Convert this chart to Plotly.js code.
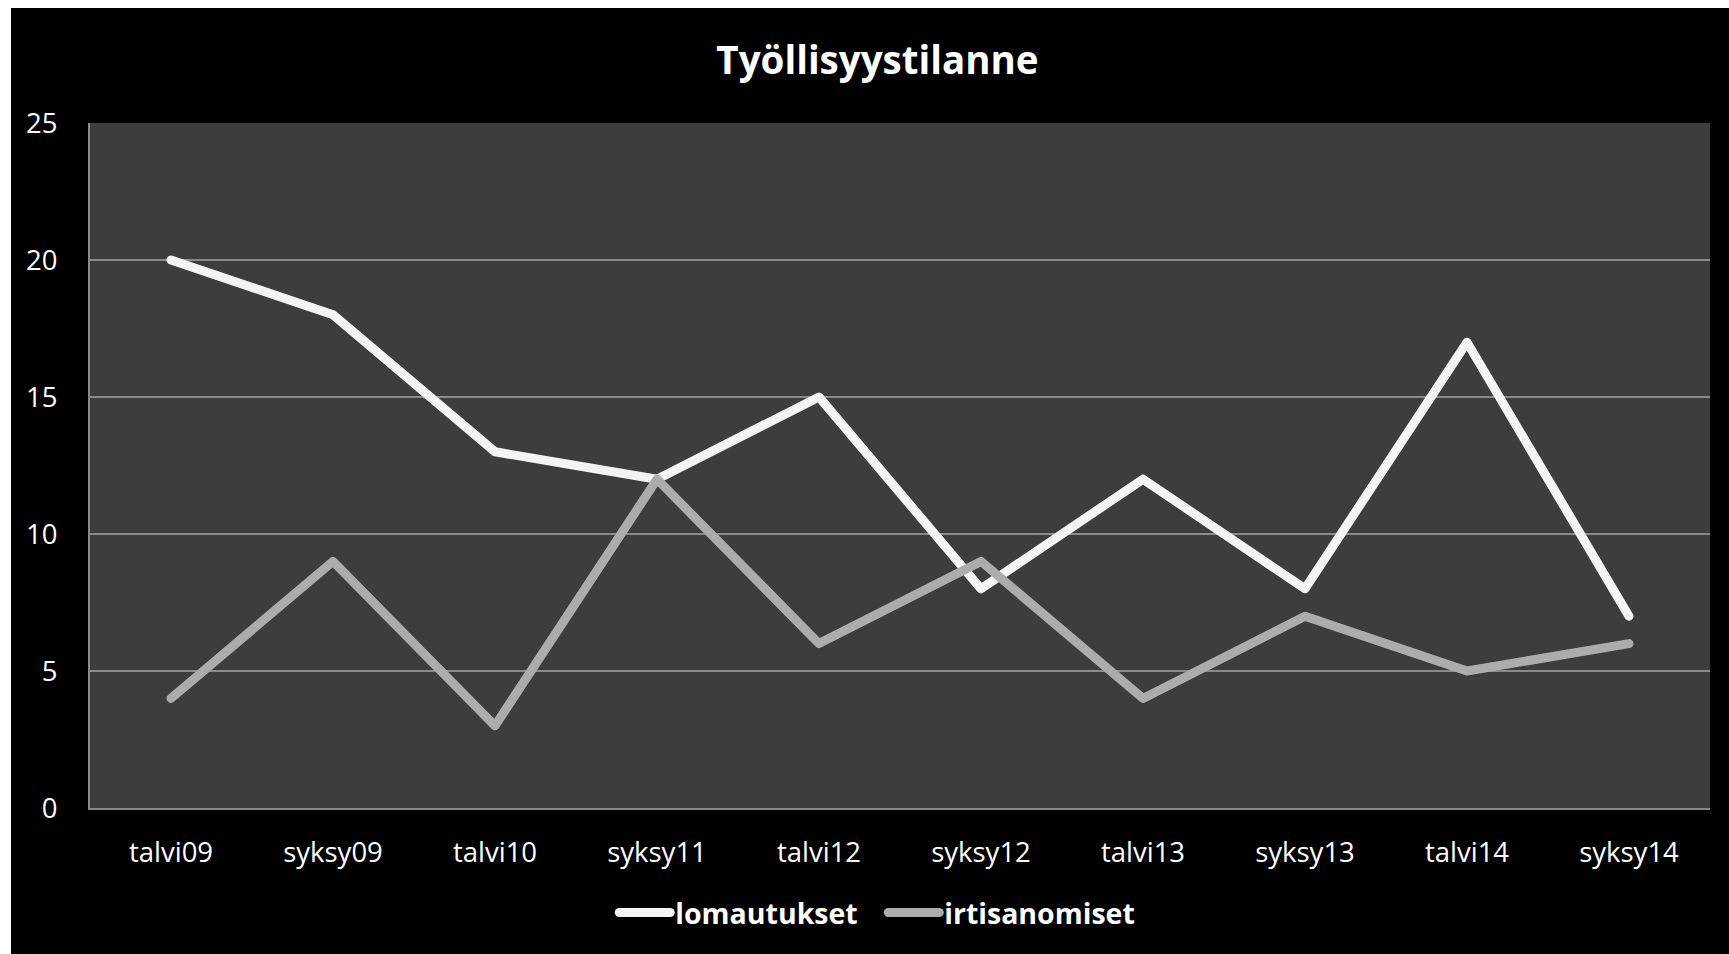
<!DOCTYPE html>
<html>
<head>
<meta charset="utf-8">
<script src="https://cdn.plot.ly/plotly-3.0.1.min.js"></script>
<style>
  html, body { margin: 0; padding: 0; background: #ffffff; }
  #chart { position: absolute; left: 11px; top: 8px; width: 1718px; height: 946px; }
  .js-line, .legendlines path { stroke-linecap: round; stroke-linejoin: round; }
  svg text { font-variant-ligatures: none; }
</style>
</head>
<body>
<div id="chart"></div>
<script>
const categories = ["talvi09", "syksy09", "talvi10", "syksy11", "talvi12", "syksy12", "talvi13", "syksy13", "talvi14", "syksy14"];
const lomautukset = [20, 18, 13, 12, 15, 8, 12, 8, 17, 7];
const irtisanomiset = [4, 9, 3, 12, 6, 9, 4, 7, 5, 6];
const seriesNames = ["lomautukset", "irtisanomiset"];
const yTicks = [0, 5, 10, 15, 20, 25];

const FONT = "'Open Sans', Lato, sans-serif";

const traces = [
  {
    x: categories, y: lomautukset, name: seriesNames[0], type: "scatter", mode: "lines",
    line: { color: "#f4f4f4", width: 9 }
  },
  {
    x: categories, y: irtisanomiset, name: seriesNames[1], type: "scatter", mode: "lines",
    line: { color: "#acacac", width: 9 }
  }
];

const layout = {
  width: 1718, height: 946,
  paper_bgcolor: "#000000",
  plot_bgcolor: "#3d3d3d",
  margin: { l: 79, r: 19, t: 115, b: 146 },
  font: { family: FONT, color: "#ffffff", size: 27 },
  title: {
    text: "<b>Työllisyystilanne</b>",
    font: { family: FONT, size: 38.5, color: "#ffffff" },
    x: 872 / 1729, xref: "container", xanchor: "center",
    y: 1 - 53 / 946, yref: "container", yanchor: "middle"
  },
  xaxis: {
    type: "category",
    range: [-0.5, categories.length - 0.5],
    showgrid: false,
    showline: true, linecolor: "#8a8a8a", linewidth: 2,
    ticks: "", ticklabelstandoff: 19,
    tickfont: { family: FONT, size: 27.5, color: "#ffffff" },
    zeroline: false, fixedrange: true
  },
  yaxis: {
    range: [0, 25],
    tickvals: yTicks,
    ticktext: yTicks.map(String),
    showgrid: true, gridcolor: "#8a8a8a", gridwidth: 1.5,
    showline: true, linecolor: "#8a8a8a", linewidth: 2,
    ticks: "", ticklabelstandoff: 25,
    tickfont: { family: FONT, size: 27.5, color: "#ffffff" },
    zeroline: false, fixedrange: true
  },
  showlegend: true,
  legend: {
    orientation: "h",
    x: 899 / 1729, xref: "container", xanchor: "center",
    y: 1 - 905 / 946, yref: "container", yanchor: "middle",
    font: { family: FONT, size: 28.5, color: "#ffffff", weight: "bold" },
    bgcolor: "rgba(0,0,0,0)",
    entrywidth: 224, entrywidthmode: "pixels",
    itemwidth: 30, tracegroupgap: 0
  }
};

function lengthenLegendLines() {
  document.querySelectorAll(".legend [clip-path]").forEach(function (el) {
    el.removeAttribute("clip-path");
  });
  document.querySelectorAll(".legendlines path").forEach(function (p) {
    p.setAttribute("d", "M-16,0h51");
  });
}

Plotly.newPlot("chart", traces, layout, { displayModeBar: false, staticPlot: true })
  .then(lengthenLegendLines);
</script>
</body>
</html>
